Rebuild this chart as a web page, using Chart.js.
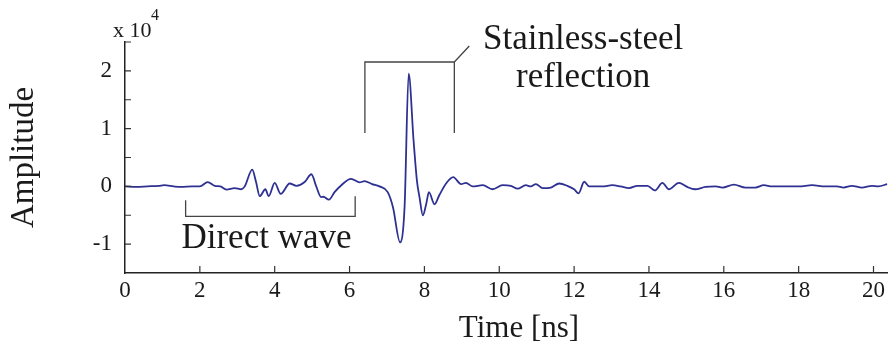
<!DOCTYPE html>
<html>
<head>
<meta charset="utf-8">
<script src="https://cdn.jsdelivr.net/npm/chart.js@4.4.0/dist/chart.umd.min.js"></script>
<style>
  html, body { margin: 0; padding: 0; background: #fff; }
  canvas { display: block; }
</style>
</head>
<body>
<canvas id="myChart" width="889" height="351"></canvas>
<script>
  // time axis in ns, amplitude in units of 1e4
  const timeNs = [
    0.0, 0.3, 0.6, 0.9, 1.05, 1.3, 1.5, 1.8, 2.0, 2.21,
    2.4, 2.55, 2.71, 2.93, 3.11, 3.2, 3.40, 3.5, 3.6, 3.75,
    3.84, 4.0, 4.16, 4.4, 4.58, 4.8, 4.98, 5.11, 5.24, 5.3,
    5.45, 5.6, 5.78, 6.04, 6.27, 6.4, 6.6, 6.8, 7.02, 7.16,
    7.35, 7.47, 7.58, 7.71, 7.8, 7.87, 7.96, 8.05, 8.12, 8.27,
    8.4, 8.58, 8.77, 8.98, 9.11, 9.29, 9.56, 9.82, 10.09, 10.31,
    10.49, 10.71, 10.84, 10.98, 11.16, 11.38, 11.6, 11.82, 12.0, 12.12,
    12.27, 12.4, 12.76, 13.02, 13.24, 13.47, 13.69, 13.96, 14.16, 14.36,
    14.53, 14.8, 15.02, 15.23, 15.51, 15.78, 15.96, 16.27, 16.58, 16.84,
    17.07, 17.29, 17.64, 18.0, 18.36, 18.71, 19.02, 19.2, 19.42, 19.69,
    19.96, 20.13, 20.37
  ];
  const amplitude = [
    0.00, -0.01, 0.00, 0.01, 0.02, 0.00, -0.01, 0.00, 0.00, 0.075,
    0.01, 0.00, -0.055, -0.03, -0.05, 0.00, 0.29, 0.08, -0.17, -0.05,
    -0.17, 0.06, -0.13, 0.05, 0.01, 0.075, 0.21, 0.00, -0.185, -0.18,
    -0.23, -0.10, 0.02, 0.13, 0.07, 0.09, 0.04, 0.00, -0.10, -0.36,
    -0.97, -0.36, 1.95, 0.80, 0.10, -0.19, -0.50, -0.30, -0.10, -0.31,
    -0.15, 0.05, 0.16, 0.04, 0.06, 0.00, 0.02, -0.05, 0.02, 0.01,
    -0.04, 0.02, 0.00, 0.04, -0.03, -0.02, 0.05, 0.01, -0.05, -0.12,
    0.08, 0.00, 0.00, 0.02, 0.00, -0.03, 0.01, 0.01, -0.07, 0.06,
    -0.05, 0.06, -0.01, -0.05, -0.01, 0.00, -0.02, 0.03, -0.02, -0.02,
    0.02, 0.00, 0.00, 0.00, 0.02, 0.00, 0.00, -0.02, 0.01, -0.02,
    0.01, 0.00, 0.04
  ];

  const xTickValues = [0, 2, 4, 6, 8, 10, 12, 14, 16, 18, 20];
  const yTickValues = [-1.5, -1, -0.5, 0, 0.5, 1, 1.5, 2, 2.5];
  const yTickLabels = ['', '-1', '', '0', '', '1', '', '2', ''];

  // annotation brackets, in data units
  const directBracket = { x0: 1.62, x1: 6.15, yLeft: -0.24, yRight: -0.17, yBase: -0.52 };
  const steelBracket = { x0: 6.41, x1: 8.8, yTop: 2.154, yBottom: 0.924, xTip: 9.2, yTip: 2.43 };

  const serif = "'Liberation Serif', 'Times New Roman', serif";

  const figureExtras = {
    id: 'figureExtras',
    afterDraw(chart) {
      const ctx = chart.ctx;
      const xs = chart.scales.x, ys = chart.scales.y;
      const area = chart.chartArea;
      ctx.save();

      // inward tick marks
      ctx.strokeStyle = '#333';
      ctx.lineWidth = 1.2;
      ctx.beginPath();
      xTickValues.forEach(function (v) {
        if (v === 0) return;
        const px = xs.getPixelForValue(v);
        ctx.moveTo(px, area.bottom);
        ctx.lineTo(px, area.bottom - 7);
      });
      yTickValues.forEach(function (v) {
        if (v === -1.5) return;
        const py = ys.getPixelForValue(v);
        ctx.moveTo(area.left, py);
        ctx.lineTo(area.left + 6, py);
      });
      ctx.stroke();

      // brackets
      ctx.strokeStyle = '#444';
      ctx.lineWidth = 1.3;
      ctx.beginPath();
      ctx.moveTo(xs.getPixelForValue(directBracket.x0), ys.getPixelForValue(directBracket.yLeft));
      ctx.lineTo(xs.getPixelForValue(directBracket.x0), ys.getPixelForValue(directBracket.yBase));
      ctx.lineTo(xs.getPixelForValue(directBracket.x1), ys.getPixelForValue(directBracket.yBase));
      ctx.lineTo(xs.getPixelForValue(directBracket.x1), ys.getPixelForValue(directBracket.yRight));
      ctx.moveTo(xs.getPixelForValue(steelBracket.x0), ys.getPixelForValue(steelBracket.yBottom));
      ctx.lineTo(xs.getPixelForValue(steelBracket.x0), ys.getPixelForValue(steelBracket.yTop));
      ctx.lineTo(xs.getPixelForValue(steelBracket.x1), ys.getPixelForValue(steelBracket.yTop));
      ctx.lineTo(xs.getPixelForValue(steelBracket.x1), ys.getPixelForValue(steelBracket.yBottom));
      ctx.moveTo(xs.getPixelForValue(steelBracket.x1), ys.getPixelForValue(steelBracket.yTop));
      ctx.lineTo(xs.getPixelForValue(steelBracket.xTip), ys.getPixelForValue(steelBracket.yTip));
      ctx.stroke();

      // texts
      ctx.fillStyle = '#1a1a1a';
      ctx.textAlign = 'center';
      ctx.textBaseline = 'alphabetic';
      ctx.font = '35px ' + serif;
      ctx.fillText('Direct wave', xs.getPixelForValue(3.78), ys.getPixelForValue(-1.06));
      ctx.fillText('Stainless-steel', xs.getPixelForValue(12.24), ys.getPixelForValue(2.386));
      ctx.fillText('reflection', xs.getPixelForValue(12.24), ys.getPixelForValue(1.716));

      ctx.font = '31px ' + serif;
      ctx.fillText('Time [ns]', 519, 337);

      ctx.textAlign = 'left';
      ctx.font = '22px ' + serif;
      ctx.fillText('x 10', area.left - 12, area.top - 5);
      ctx.font = '16px ' + serif;
      ctx.fillText('4', area.left + 26, area.top - 22);
      ctx.restore();
    }
  };

  const config = {
    type: 'line',
    data: {
      datasets: [{
        data: timeNs.map(function (t, i) { return { x: t, y: amplitude[i] }; }),
        borderColor: '#2e3192',
        borderWidth: 1.8,
        pointRadius: 0,
        cubicInterpolationMode: 'monotone',
        fill: false
      }]
    },
    options: {
      responsive: false,
      animation: false,
      layout: { padding: { top: 42, right: 0, left: 0, bottom: 0 } },
      plugins: { legend: { display: false }, tooltip: { enabled: false } },
      scales: {
        x: {
          type: 'linear',
          min: 0,
          max: 20.37,
          afterBuildTicks: function (scale) {
            scale.ticks = xTickValues.map(function (v) { return { value: v }; });
          },
          afterFit: function (scale) { scale.height = 78; },
          grid: { drawOnChartArea: false, drawTicks: false },
          border: { display: true, color: '#222', width: 1.5 },
          ticks: {
            padding: 4,
            color: '#1a1a1a',
            maxRotation: 0,
            autoSkip: false,
            font: { family: serif, size: 23 }
          }
        },
        y: {
          type: 'linear',
          min: -1.5,
          max: 2.5,
          afterBuildTicks: function (scale) {
            scale.ticks = yTickValues.map(function (v) { return { value: v }; });
          },
          afterFit: function (scale) { scale.width = 125; },
          grid: { drawOnChartArea: false, drawTicks: false },
          border: { display: true, color: '#222', width: 1.5 },
          ticks: {
            padding: 13,
            color: '#1a1a1a',
            autoSkip: false,
            font: { family: serif, size: 23 },
            callback: function (value, index) { return yTickLabels[index]; }
          },
          title: {
            display: true,
            text: 'Amplitude',
            color: '#1a1a1a',
            padding: { top: 5, bottom: 0 },
            font: { family: serif, size: 33 }
          }
        }
      }
    },
    plugins: [figureExtras]
  };

  const myChart = new Chart(document.getElementById('myChart'), config);
</script>
</body>
</html>
